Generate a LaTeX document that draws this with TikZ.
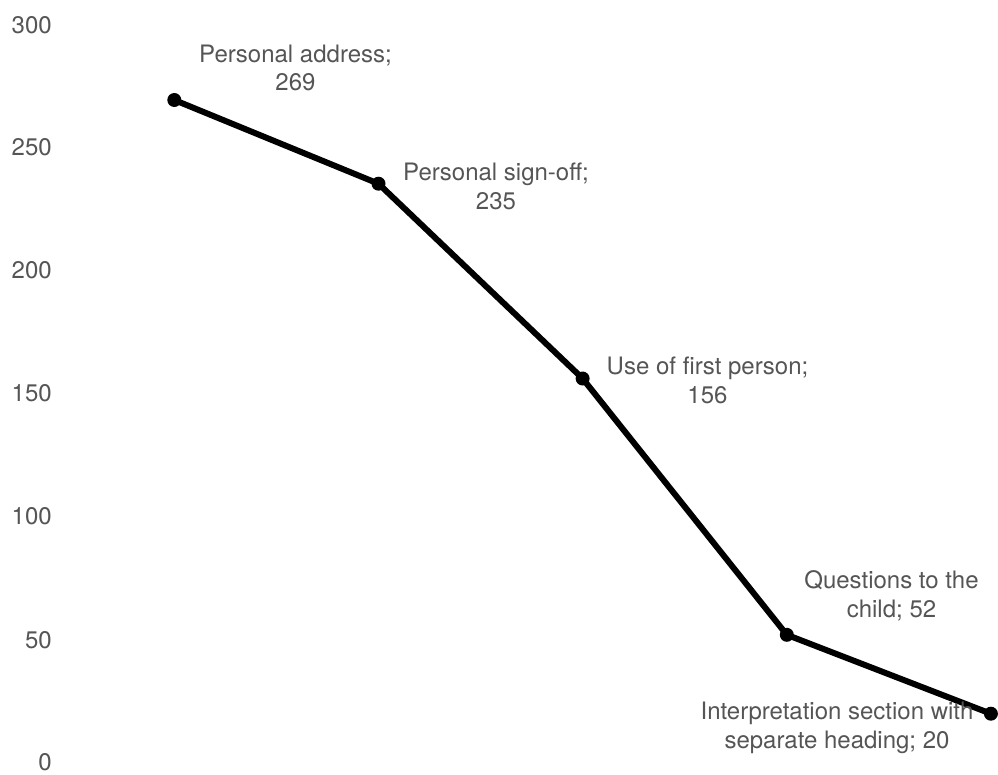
\documentclass[tikz,border=0pt]{standalone}
\usepackage{fontspec}
\setmainfont{TeX Gyre Heros}
\usepackage{xcolor}
\usepackage{tikz}
\definecolor{labelgrey}{HTML}{555555}

\begin{document}
\begin{tikzpicture}
[x=0.75pt,y=-0.75pt,
dot/.style={circle,fill=black,inner sep=0pt,minimum size=10.5pt},
tick/.style={anchor=east,inner sep=0pt,text=labelgrey,font=\fontsize{18}{21.6}\selectfont},
datalab/.style={align=center,inner sep=0pt,text=labelgrey,font=\fontsize{18}{21.6}\selectfont},
graphline/.style={draw=black,line width=4.5pt,line join=round}]

\useasboundingbox (0,0) rectangle (998,774);

% y axis values
\node at (52,25)  [tick] (t300) {300};
\node at (52,147) [tick] (t250) {250};
\node at (52,270) [tick] (t200) {200};
\node at (52,393) [tick] (t150) {150};
\node at (52,516) [tick] (t100) {100};
\node at (52,640) [tick] (t50)  {50};
\node at (52,762) [tick] (t0)   {0};

% data points
\node at (174.3,100.0) [dot] (addr)  {};
\node at (378.5,183.7) [dot] (sign)  {};
\node at (582.6,378.5) [dot] (first) {};
\node at (786.8,634.8) [dot] (quest) {};
\node at (990.9,713.7) [dot] (interp) {};
\draw [graphline] (addr.center) -- (sign.center) -- (first.center)
  -- (quest.center) -- (interp.center);

\node at (295.5,68)  [datalab] (addrlab)   {Personal address;\\269};
\node at (496,186)   [datalab] (signlab)   {Personal sign-off;\\235};
\node at (707.5,380) [datalab] (firstlab)  {Use of first person;\\156};
\node at (891.5,596) [datalab] (questlab)  {Questions to the\\child; 52};
\node at (837,728)   [datalab] (interplab) {Interpretation section with\\separate heading; 20};
\end{tikzpicture}
\end{document}
